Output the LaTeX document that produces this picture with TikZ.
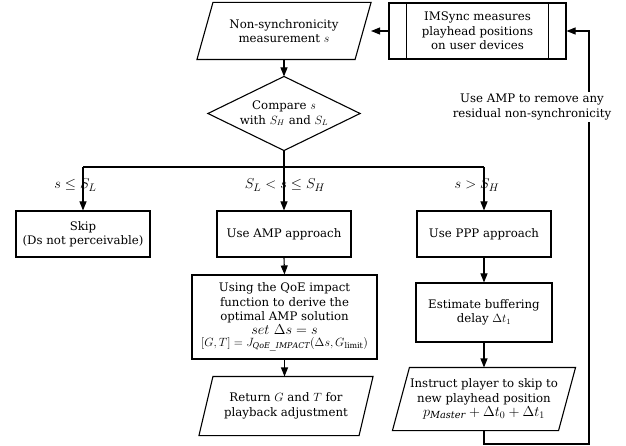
\documentclass[tikz,border=0pt]{standalone}
\usepackage{fontspec}
\setmainfont{DejaVu Serif}
\usetikzlibrary{arrows.meta}
\newcommand\nodefont{\fontsize{11.8}{14.5}\selectfont}
\newcommand\bigmath{\fontsize{14}{16}\selectfont}
\newcommand\lblmath{\fontsize{15.5}{17}\selectfont}
\begin{document}
\begin{tikzpicture}[x=1bp,y=-1bp,line width=1.1bp,
  box/.style={draw, rectangle, align=center, inner sep=1bp, font=\nodefont},
  shape0/.style={rectangle, align=center, inner sep=1bp, font=\nodefont},
  arr/.style={-{Triangle[length=9bp,width=7bp]}},
  blabel/.style={font=\lblmath, inner sep=0pt}
]
\useasboundingbox (0,0) rectangle (626,446);

% top row
\node[shape0, minimum width=157bp, minimum height=56bp] (meas) at (284,31)
  {Non-synchronicity\\measurement $s$};
\draw ([xshift=8bp]meas.north west) -- ([xshift=8bp]meas.north east)
  -- ([xshift=-8bp]meas.south east) -- ([xshift=-8bp]meas.south west) -- cycle;

\node[box, minimum width=177bp, minimum height=56bp] (im) at (477.5,31)
  {IMSync measures\\playhead positions\\on user devices};
\draw ([xshift=18bp]im.north west) -- ([xshift=18bp]im.south west);
\draw ([xshift=-18bp]im.north east) -- ([xshift=-18bp]im.south east);

% decision
\node[shape0, minimum width=151bp, minimum height=73bp] (dia) at (284,113.5)
  {Compare $s$\\with $S_H$ and $S_L$};
\draw (dia.north) -- (dia.east) -- (dia.south) -- (dia.west) -- cycle;

% second row
\node[box, minimum width=134bp, minimum height=46bp] (skip) at (83,234)
  {Skip\\(Ds not perceivable)};
\node[box, minimum width=134bp, minimum height=46bp] (amp) at (284,234)
  {Use AMP approach};
\node[box, minimum width=134bp, minimum height=46bp] (ppp) at (484,234)
  {Use PPP approach};

% third row
\node[box, minimum width=185bp, minimum height=84bp, inner sep=0pt] (qoe) at (284.5,317)
  {Using the QoE impact\\function to derive the\\optimal AMP solution\\[-1bp]
   {\bigmath $set\ \Delta s = s$}\\[-2bp]
   {\fontsize{12}{13}\selectfont $[G,T] = J_{\mathit{QoE\_IMPACT}}(\Delta s, G_{\mathrm{limit}})$}};
\node[box, minimum width=136bp, minimum height=59bp] (est) at (484,312.5)
  {Estimate buffering\\delay $\Delta t_1$};

% fourth row
\node[shape0, minimum width=159bp, minimum height=58bp] (ret) at (286,406)
  {Return $G$ and $T$ for\\playback adjustment};
\draw ([xshift=7bp]ret.north west) -- ([xshift=7bp]ret.north east)
  -- ([xshift=-7bp]ret.south east) -- ([xshift=-7bp]ret.south west) -- cycle;

\node[shape0, minimum width=165bp, minimum height=62bp] (ins) at (484,399)
  {Instruct player to skip to\\new playhead position\\
   {\bigmath $p_{\mathit{Master}} + \Delta t_0 + \Delta t_1$}};
\draw ([xshift=8.5bp]ins.north west) -- ([xshift=8.5bp]ins.north east)
  -- ([xshift=-8.5bp]ins.south east) -- ([xshift=-8.5bp]ins.south west) -- cycle;

% connectors
\draw[arr] (im.west) -- ([xshift=8bp]meas.east);
\draw[arr] (meas.south) -- (dia.north);

\coordinate (bl) at (83,167);
\coordinate (br) at (484,167);
\draw (bl) -- (br);
\draw[arr] (bl) -- (skip.north);
\draw[arr] (br) -- (ppp.north);
\draw[arr] (dia.south) -- (amp.north);

\node[blabel] (l1) at (75.5,185) {$s \le S_L$};
\node[blabel] (l2) at (285,185) {$S_L < s \le S_H$};
\node[blabel] (l3) at (477,185) {$s > S_H$};

\draw[arr] (amp.south) -- (qoe.north);
\draw[arr] (qoe.south) -- (ret.north -| qoe.south);
\draw[arr] (ppp.south) -- (est.north);
\draw[arr] (est.south) -- (ins.north);

\coordinate (c1) at (589,444);
\coordinate (c2) at (589,31);
\draw[arr] (ins.south) |- (c1) -- (c2) -- (im.east);

\node[font=\nodefont, fill=white, align=center, inner sep=2bp] (fb) at (532,107)
  {Use AMP to remove any\\residual non-synchronicity};
\end{tikzpicture}
\end{document}
